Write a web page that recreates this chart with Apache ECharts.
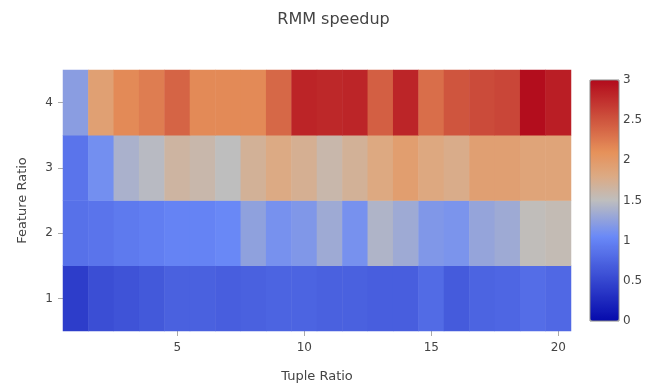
<!DOCTYPE html>
<html><head><meta charset="utf-8">
<script src="https://cdn.jsdelivr.net/npm/echarts@6/dist/echarts.min.js"></script>
<style>html,body{margin:0;padding:0;background:#fff}#c{width:667px;height:385px}</style>
</head><body><div id="c"></div>
<script>
var tupleRatio = [1,2,3,4,5,6,7,8,9,10,11,12,13,14,15,16,17,18,19,20];
var featureRatio = [1,2,3,4];
var row1 = [0.42,0.56,0.60,0.65,0.72,0.72,0.70,0.72,0.74,0.74,0.72,0.72,0.70,0.70,0.80,0.67,0.74,0.76,0.82,0.78];
var row2 = [0.85,0.88,0.93,0.96,1.00,1.00,1.04,1.25,1.12,1.17,1.33,1.12,1.42,1.33,1.17,1.14,1.28,1.33,1.52,1.55];
var row3 = [0.88,1.10,1.39,1.47,1.65,1.60,1.50,1.70,1.80,1.73,1.60,1.70,1.82,1.95,1.83,1.77,1.93,1.93,1.88,1.88];
var row4 = [1.22,1.92,2.15,2.23,2.40,2.15,2.15,2.15,2.37,2.83,2.80,2.82,2.43,2.82,2.33,2.50,2.57,2.60,2.98,2.87];
var colorbarTicks = [0,0.5,1,1.5,2,2.5,3];

// colour scale stops (position 0..1, rgb)
var scaleStops = [[0,[5,10,172]],[0.35,[106,137,247]],[0.5,[190,190,190]],[0.6,[220,170,132]],[0.7,[230,145,90]],[1,[178,10,28]]];
function colorAt(t){
  for (var i=1;i<scaleStops.length;i++){
    if (t<=scaleStops[i][0]){
      var a=scaleStops[i-1], b=scaleStops[i], f=(t-a[0])/(b[0]-a[0]);
      var c=a[1].map(function(x,k){return Math.round(x+(b[1][k]-x)*f);});
      return 'rgb('+c.join(',')+')';
    }
  }
  return 'rgb('+scaleStops[scaleStops.length-1][1].join(',')+')';
}
var palette=[]; for (var k=0;k<=100;k++) palette.push(colorAt(k/100));

var rows = [row1,row2,row3,row4];
var data = [];
rows.forEach(function(r, yi){ r.forEach(function(v, xi){ data.push([xi, yi, v]); }); });
var txt = '#444';
var font = 'DejaVu Sans';
var chart = echarts.init(document.getElementById('c'));
chart.setOption({
  animation:false,
  textStyle:{fontFamily:font},
  title:{text:'RMM speedup',left:'center',top:7,textStyle:{fontSize:16,fontWeight:'normal',color:txt,fontFamily:font}},
  grid:[
    {left:63,top:70,width:508,height:261,outerBoundsMode:'none',containLabel:false},
    {left:590,top:80,width:29,height:241,outerBoundsMode:'none',containLabel:false,show:true,borderColor:'#888',borderWidth:1,backgroundColor:'transparent',z:10}
  ],
  xAxis:[
    {type:'category',gridIndex:0,data:tupleRatio.map(String),
     axisLine:{show:false},
     axisTick:{show:true,alignWithLabel:true,length:5,lineStyle:{color:'#aaa'},interval:function(i,v){return (+v)%5===0;}},
     axisLabel:{interval:function(i,v){return (+v)%5===0;},color:txt,fontSize:12,margin:11},
     name:'Tuple Ratio',nameLocation:'middle',nameGap:39,nameTextStyle:{color:txt,fontSize:13}},
    {type:'value',gridIndex:1,show:false,min:0,max:1}
  ],
  yAxis:[
    {type:'category',gridIndex:0,data:featureRatio.map(String),
     axisLine:{show:false},
     axisTick:{show:true,alignWithLabel:true,length:5,lineStyle:{color:'#aaa'}},
     axisLabel:{color:txt,fontSize:12,margin:10},
     name:'Feature Ratio',nameLocation:'middle',nameGap:34,nameTextStyle:{color:txt,fontSize:13}},
    {type:'value',gridIndex:1,position:'right',min:0,max:3,interval:0.5,
     axisLine:{show:false},axisTick:{show:false},splitLine:{show:false},
     axisLabel:{color:txt,fontSize:12,margin:4,formatter:function(v){return colorbarTicks.indexOf(v)>=0?String(v):'';}}}
  ],
  visualMap:{type:'continuous',min:0,max:3,seriesIndex:0,calculable:false,
    left:590,top:80,itemWidth:29,itemHeight:241,padding:0,text:null,showLabel:false,
    inRange:{color:palette}},
  series:[
    {type:'heatmap',xAxisIndex:0,yAxisIndex:0,data:data,itemStyle:{borderWidth:0}},
    {type:'scatter',xAxisIndex:1,yAxisIndex:1,data:[],silent:true}
  ]
});
</script></body></html>
